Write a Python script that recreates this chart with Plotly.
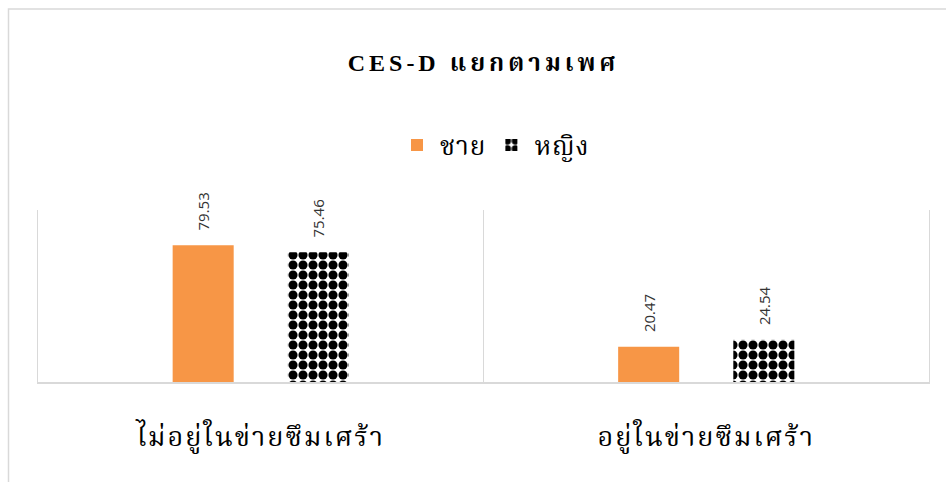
import plotly.graph_objects as go

categories = ["ไม่อยู่ในข่ายซึมเศร้า", "อยู่ในข่ายซึมเศร้า"]
male = [79.53, 20.47]
female = [75.46, 24.54]
series_names = ["ชาย", "หญิง"]
title_latin = "CES-D"
title_thai = "แยกตามเพศ"

W, H = 946, 482
ml, mr, mt, mb = 38, 17, 210, 100
pw = W - ml - mr
ph = H - mt - mb

def px_x(p):
    return (p - ml) / pw

def px_y(p):
    return (H - mb - p) / ph

thai = "Noto Serif Thai, Liberation Serif, serif"
serif = "Liberation Serif, Noto Serif Thai, serif"
sans = "Open Sans, Liberation Sans, sans-serif"
pad = "\u00a0\u00a0\u00a0"

fig = go.Figure()
fig.add_trace(go.Bar(
    x=categories, y=male, name=series_names[0],
    marker=dict(color="#F79646", line=dict(width=0)),
    text=[pad + f"{v:.2f}" for v in male], textposition="outside", textangle=-90,
    textfont=dict(family=sans, size=15, color="#333333"),
    cliponaxis=False,
))
fig.add_trace(go.Bar(
    x=categories, y=female, name=series_names[1],
    marker=dict(color="white", line=dict(width=0),
                pattern=dict(shape=".", fgcolor="#000000", bgcolor="#ffffff",
                             fgopacity=1, size=10, solidity=0.65)),
    text=[pad + f"{v:.2f}" for v in female], textposition="outside", textangle=-90,
    textfont=dict(family=sans, size=15, color="#333333"),
    cliponaxis=False,
))

fig.update_layout(
    width=W, height=H,
    margin=dict(l=ml, r=mr, t=mt, b=mb),
    paper_bgcolor="white", plot_bgcolor="white",
    barmode="group", bargap=0.483, bargroupgap=0.47,
    title=dict(text=f"<b>{title_latin} <span style='font-family:Noto Serif Thai'>{title_thai}</span></b>",
               x=0.5, xref="paper", xanchor="center",
               y=1 - 63 / H, yanchor="middle",
               font=dict(family=serif, size=24, color="black")),
    legend=dict(orientation="h", x=px_x(493), xanchor="center",
                y=px_y(145), yanchor="middle",
                font=dict(family=thai, size=26, color="black"),
                itemwidth=36, traceorder="normal", bgcolor="rgba(0,0,0,0)"),
    showlegend=True,
    xaxis=dict(showgrid=True, gridcolor="#d9d9d9", gridwidth=1, tickson="boundaries",
               ticks="", showline=True, linecolor="#d9d9d9", linewidth=2,
               ticklabelstandoff=30,
               tickfont=dict(family=thai, size=27, color="black")),
    yaxis=dict(range=[0, 100], showticklabels=False, showgrid=False, zeroline=False,
               showline=True, mirror=True, linecolor="#d9d9d9", linewidth=1,
               ticks="", fixedrange=True),
    shapes=[dict(type="rect", xref="paper", yref="paper",
                 x0=px_x(8.5), x1=px_x(1100), y0=px_y(900), y1=px_y(9),
                 line=dict(color="#d9d9d9", width=1.5), fillcolor="rgba(0,0,0,0)",
                 layer="below")],
)

post = """
document.body.style.margin='0';
var t=document.querySelector('.gtitle'); if(t){t.style.letterSpacing='4px';}
document.querySelectorAll('.xtick text').forEach(function(e){e.style.letterSpacing='2px';});
document.querySelectorAll('.legendtext').forEach(function(e){e.style.letterSpacing='1px';});
"""
fig.write_html("out.html", post_script=post, config={"displayModeBar": False})
